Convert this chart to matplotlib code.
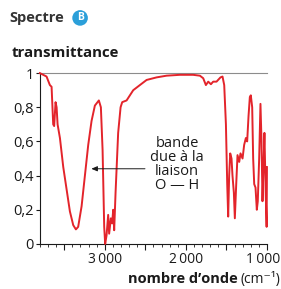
import matplotlib
matplotlib.use("Agg")
import matplotlib.pyplot as plt
from matplotlib.ticker import MultipleLocator, FixedLocator

plt.rcParams["font.family"] = ["Open Sans", "DejaVu Sans"]

# IR spectrum
wavenumber = [3800, 3718, 3677, 3656, 3636, 3624, 3607, 3594, 3582, 3553, 3512, 3471,
              3430, 3389, 3356, 3328, 3286, 3245, 3204, 3163, 3122, 3073, 3048, 3027,
              3007, 2995, 2978, 2958, 2946, 2925, 2909, 2896, 2884, 2867, 2835, 2805,
              2785, 2731, 2690, 2649, 2567, 2484, 2361, 2238, 2074, 1910, 1827, 1786,
              1753, 1724, 1691, 1663, 1622, 1573, 1548, 1527, 1506, 1490, 1478, 1466,
              1453, 1437, 1425, 1408, 1396, 1379, 1363, 1342, 1326, 1301, 1281, 1260,
              1244, 1227, 1211, 1199, 1182, 1170, 1157, 1141, 1125, 1113, 1096, 1080,
              1067, 1055, 1043, 1031, 1018, 1004, 1000]
transmittance = [1.0, 0.98, 0.93, 0.92, 0.70, 0.69, 0.83, 0.80, 0.70, 0.62, 0.45, 0.32,
                 0.19, 0.11, 0.085, 0.10, 0.22, 0.40, 0.58, 0.72, 0.81, 0.84, 0.80, 0.55,
                 0.10, 0.0, 0.05, 0.17, 0.06, 0.15, 0.12, 0.20, 0.08, 0.30, 0.65, 0.80,
                 0.83, 0.84, 0.87, 0.90, 0.93, 0.96, 0.975, 0.985, 0.99, 0.99, 0.985, 0.97,
                 0.93, 0.95, 0.935, 0.95, 0.95, 0.975, 0.98, 0.93, 0.70, 0.35, 0.16, 0.40,
                 0.53, 0.50, 0.40, 0.30, 0.15, 0.35, 0.52, 0.48, 0.53, 0.50, 0.58, 0.62,
                 0.60, 0.75, 0.86, 0.87, 0.80, 0.50, 0.35, 0.33, 0.20, 0.25, 0.50, 0.82,
                 0.60, 0.25, 0.45, 0.65, 0.35, 0.10, 0.45]

xticks = [3000, 2000, 1000]
xtick_labels = ["3\u2009000", "2\u2009000", "1\u2009000"]
yticks = [0, 0.2, 0.4, 0.6, 0.8, 1]
ytick_labels = ["0", "0,2", "0,4", "0,6", "0,8", "1"]

red = "#e3242b"
dark = "#1a1a1a"

fig = plt.figure(figsize=(2.81, 2.89), dpi=100)
ax = fig.add_axes([0.142, 0.156, 0.808, 0.591])

ax.plot(wavenumber, transmittance, color=red, lw=1.4, clip_on=False, zorder=3)

ax.set_xlim(3800, 1000)
ax.set_ylim(0, 1)

ax.spines["right"].set_visible(False)
ax.spines["top"].set_color("#8c8c8c")
ax.spines["top"].set_linewidth(0.8)
for s in ("left", "bottom"):
    ax.spines[s].set_color(dark)
    ax.spines[s].set_linewidth(0.8)

ax.xaxis.set_major_locator(MultipleLocator(500))
ax.xaxis.set_minor_locator(MultipleLocator(100))
ax.xaxis.set_major_formatter(plt.NullFormatter())
ax.tick_params(axis="x", which="major", length=4, width=0.8, color=dark)
ax.tick_params(axis="x", which="minor", length=2, width=0.6, color=dark)
for i, (xv, lab) in enumerate(zip(xticks, xtick_labels)):
    # last label nudged left so it stays inside the picture
    dx = -3 if i == len(xticks) - 1 else 0
    ax.annotate(lab, xy=(xv, 0), xycoords=ax.get_xaxis_transform(),
                xytext=(dx, -6), textcoords="offset points",
                ha="center", va="top", fontsize=10, color=dark,
                family=["Open Sans", "DejaVu Sans"])

ax.yaxis.set_major_locator(FixedLocator(yticks))
ax.set_yticklabels(ytick_labels)
ax.tick_params(axis="y", length=3, width=0.8, color=dark, labelsize=10.5,
               labelcolor=dark, pad=1.5)

# annotation for the O-H band
ax.annotate("", xy=(3200, 0.44), xytext=(2470, 0.44),
            arrowprops=dict(arrowstyle="-|>,head_length=0.35,head_width=0.15",
                            color=dark, lw=0.7))
ax.text(2110, 0.465, "bande\ndue à la\nliaison\nO — H", ha="center", va="center",
        fontsize=10.5, color=dark, linespacing=0.92)

fig.text(0.035, 0.938, "Spectre", ha="left", va="center", fontsize=10.5,
         fontweight="bold", color="#333333")
fig.text(0.285, 0.938, "B", ha="center", va="center", fontsize=7.5,
         fontweight="bold", color="white",
         bbox=dict(boxstyle="circle,pad=0.22", fc="#2b9fd9", ec="none"))
fig.text(0.04, 0.817, "transmittance", ha="left", va="center", fontsize=10.8,
         fontweight="bold", color=dark)

unit = fig.text(0.996, 0.02, "(cm⁻¹)", ha="right", va="baseline", fontsize=10,
                color=dark, family=["Open Sans", "DejaVu Sans"])
fig.canvas.draw()
ux0 = unit.get_window_extent().x0 / fig.bbox.width
fig.text(ux0 - 0.008, 0.02, "nombre d’onde", ha="right", va="baseline",
         fontsize=10.5, fontweight="bold", color=dark)

fig.savefig("out.png", dpi=100)
